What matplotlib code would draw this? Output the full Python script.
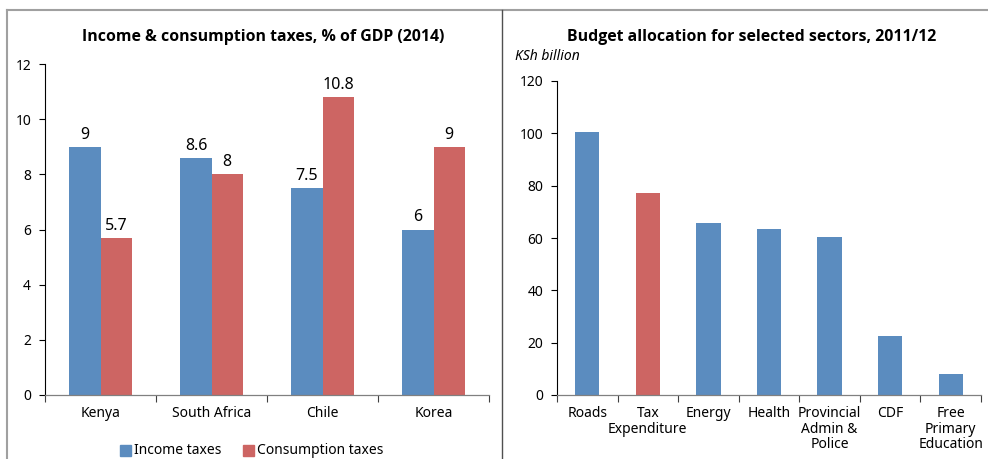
import matplotlib.pyplot as plt
from matplotlib.lines import Line2D
from matplotlib.patches import Rectangle
import numpy as np

plt.rcParams["font.family"] = ["Noto Sans", "DejaVu Sans"]

BLUE = "#5b8cbf"
RED = "#cd6563"

# Left panel: taxes as % of GDP
countries = ["Kenya", "South Africa", "Chile", "Korea"]
income_taxes = [9, 8.6, 7.5, 6]
consumption_taxes = [5.7, 8, 10.8, 9]

# Right panel: budget allocation, KSh billion
sectors = ["Roads", "Tax\nExpenditure", "Energy", "Health",
           "Provincial\nAdmin &\nPolice", "CDF", "Free\nPrimary\nEducation"]
allocation = [100.6, 77.3, 65.8, 63.6, 60.5, 22.4, 8.0]
highlight = "Tax\nExpenditure"

W, H = 988, 459
fig = plt.figure(figsize=(W / 100, H / 100), dpi=100)
TITLE_FONT = dict(family=["Open Sans", "DejaVu Sans"], fontweight="bold",
                  fontsize=11.4)


def box(x0, y0, x1, y1):
    # pixel box -> figure fraction rect
    return [x0 / W, 1 - y1 / H, (x1 - x0) / W, (y1 - y0) / H]


def excel_axes(ax, n):
    for s in ("top", "right"):
        ax.spines[s].set_visible(False)
    ax.spines["left"].set_color("black")
    ax.spines["left"].set_linewidth(0.8)
    ax.spines["bottom"].set_color("#808080")
    ax.spines["bottom"].set_linewidth(0.9)
    ax.set_xlim(0, n)
    ax.set_xticks(np.arange(n + 1))
    ax.set_xticklabels([])
    ax.set_xticks(np.arange(n) + 0.5, minor=True)
    ax.tick_params(axis="x", which="major", direction="out", length=5,
                   color="#404040", width=0.8)
    ax.tick_params(axis="x", which="minor", length=0, pad=8, labelsize=10)
    ax.tick_params(axis="y", direction="out", length=4, width=0.8,
                   labelsize=10, pad=6)


# ---- left chart ----
ax1 = fig.add_axes(box(45, 64, 489, 395))
excel_axes(ax1, len(countries))
x = np.arange(len(countries)) + 0.5
bw = 0.28
b1 = ax1.bar(x - bw / 2, income_taxes, bw, color=BLUE, edgecolor="none")
b2 = ax1.bar(x + bw / 2, consumption_taxes, bw, color=RED, edgecolor="none")
ax1.set_ylim(0, 12)
ax1.set_yticks(range(0, 13, 2))
ax1.set_xticklabels(countries, minor=True)
for bars, vals in ((b1, income_taxes), (b2, consumption_taxes)):
    for r, v in zip(bars, vals):
        ax1.text(r.get_x() + r.get_width() / 2, v + 0.15, f"{v:g}",
                 ha="center", va="bottom", fontsize=11.5)

fig.text(263 / W, 1 - 37 / H, "Income & consumption taxes, % of GDP (2014)",
         ha="center", va="center", **TITLE_FONT)

# legend drawn by hand so it sits centred under the left chart
for px, label, c in ((120, "Income taxes", BLUE), (243, "Consumption taxes", RED)):
    fig.patches.append(Rectangle((px / W, 1 - 456 / H), 11 / W, 11 / H,
                                 transform=fig.transFigure, color=c))
    fig.text((px + 14) / W, 1 - 450 / H, label, ha="left", va="center",
             fontsize=10)

# ---- right chart ----
ax2 = fig.add_axes(box(557, 81, 981, 395))
excel_axes(ax2, len(sectors))
xs = np.arange(len(sectors)) + 0.5
colors = [RED if s == highlight else BLUE for s in sectors]
ax2.bar(xs, allocation, 0.4, color=colors, edgecolor="none")
ax2.set_ylim(0, 120)
ax2.set_yticks(range(0, 121, 20))
ax2.set_xticklabels(sectors, minor=True, linespacing=1.05, va="top")

fig.text(752 / W, 1 - 37 / H, "Budget allocation for selected sectors, 2011/12",
         ha="center", va="center", **TITLE_FONT)
fig.text(515 / W, 1 - 56 / H, "KSh billion", ha="left", va="center",
         fontsize=10, fontstyle="italic")

# panel frame lines
frame = [((7, 988), (10, 10), "#a0a0a0", 1.5),
         ((7, 7), (10, 459), "#a0a0a0", 1.5),
         ((502, 502), (10, 459), "#505050", 1.0)]
for xx, yy, c, lw in frame:
    fig.lines.append(Line2D([v / W for v in xx], [1 - v / H for v in yy],
                            transform=fig.transFigure, color=c, lw=lw))

fig.savefig("out.png", dpi=100)
